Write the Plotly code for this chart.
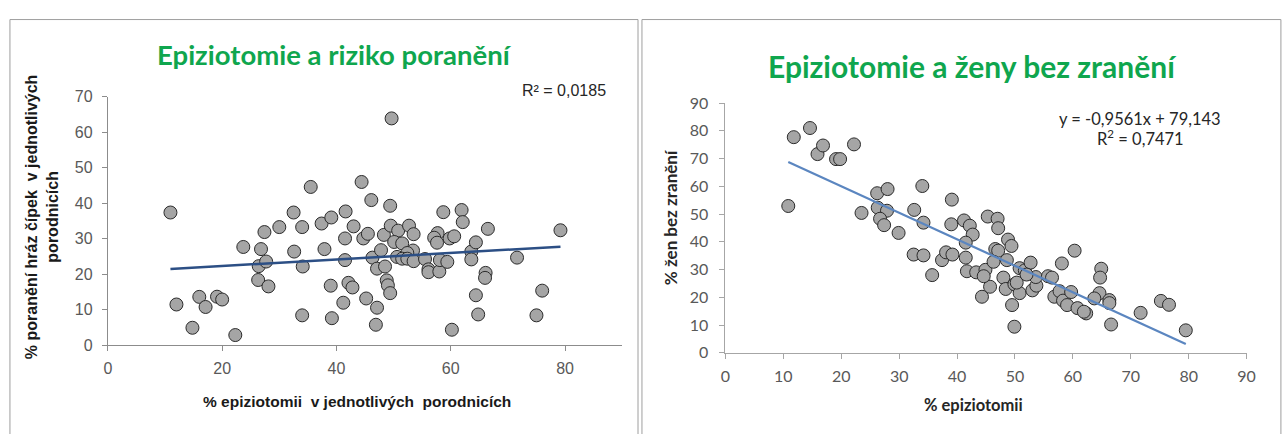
import plotly.graph_objects as go

W, H = 1282, 434

# ---------------- data ----------------
left_x = [10.95, 12.0, 14.8, 16.0, 17.1, 19.1, 20.0, 22.3, 23.7, 26.3,
          26.4, 26.8, 27.4, 27.7, 28.1, 30.0, 32.5, 32.6, 34.0, 34.1,
          34.0, 35.5, 37.4, 37.9, 39.0, 39.1, 39.2, 41.2, 41.5, 41.6,
          41.5, 42.1, 42.8, 43.0, 44.4, 44.7, 45.2, 45.5, 46.1, 46.3,
          46.9, 49.65, 49.4, 47.8, 48.3, 47.1, 48.5, 47.1, 48.8, 49.0,
          49.4, 49.5, 50.8, 50.1, 51.5, 52.7, 53.5, 53.4, 52.4, 50.6,
          51.5, 52.4, 53.5, 55.5, 56.1, 56.1, 58.0, 58.1, 59.4, 58.7,
          57.7, 57.1, 57.6, 59.8, 60.6, 61.9, 62.1, 60.2, 63.6, 63.6,
          64.4, 66.1, 66.0, 66.5, 64.4, 64.8, 71.6, 76.0, 75.0, 79.2]
left_y = [37.4, 11.5, 4.95, 13.65, 10.8, 13.7, 12.9, 2.9, 27.7, 18.4,
          22.3, 27.1, 31.9, 23.6, 16.6, 33.3, 37.4, 26.4, 33.3, 22.2,
          8.45, 44.6, 34.3, 27.1, 16.8, 36.0, 7.65, 12.0, 24.0, 37.7,
          30.1, 17.6, 16.3, 33.5, 46.0, 30.1, 13.2, 31.4, 40.9, 24.7,
          5.8, 63.9, 39.3, 26.8, 31.1, 21.6, 22.2, 10.6, 18.3, 16.9,
          14.7, 33.7, 32.3, 29.1, 28.7, 33.7, 31.3, 26.7, 26.0, 24.9,
          24.4, 24.4, 23.7, 24.3, 21.4, 20.6, 20.8, 24.0, 23.5, 37.5,
          31.6, 30.3, 28.9, 30.1, 30.7, 38.1, 34.7, 4.4, 26.4, 24.2,
          29.0, 20.4, 19.0, 32.8, 14.1, 8.7, 24.7, 15.4, 8.45, 32.4]
left_slope, left_intercept = 0.092, 20.5
left_r2_text = "R² = 0,0185"

right_x = [10.85, 11.8, 14.6, 15.9, 16.85, 19.1, 19.8, 22.2, 23.5, 26.2,
           28.0, 26.3, 27.9, 26.7, 27.4, 29.9, 32.6, 34.0, 34.2, 32.5,
           34.2, 35.7, 37.4, 38.1, 39.2, 39.1, 39.0, 41.2, 42.2, 42.7,
           41.5, 41.5, 41.7, 43.3, 44.3, 44.9, 45.3, 45.7, 47.0, 47.1,
           48.8, 49.4, 46.6, 47.1, 46.3, 48.6, 44.6, 48.0, 48.4, 49.9,
           49.5, 49.9, 50.8, 51.7, 52.7, 50.8, 50.3, 53.0, 53.7, 53.6,
           52.0, 55.7, 56.4, 58.1, 60.3, 56.8, 57.7, 58.3, 59.0, 59.7,
           60.8, 62.3, 61.9, 64.9, 64.7, 64.6, 63.7, 66.3, 66.3, 66.6,
           71.7, 75.2, 76.6, 79.5]
right_y = [52.9, 77.7, 81.0, 71.6, 74.7, 69.8, 69.8, 75.1, 50.4, 57.5,
           59.0, 52.3, 51.2, 48.3, 46.0, 43.2, 51.5, 60.1, 46.9, 35.4,
           35.1, 28.0, 33.4, 36.2, 35.4, 55.2, 46.3, 47.7, 45.8, 42.6,
           39.7, 34.3, 29.4, 29.0, 20.2, 29.9, 49.1, 23.8, 48.3, 44.9,
           40.8, 38.5, 37.4, 36.8, 32.8, 33.4, 27.6, 27.1, 23.0, 24.7,
           17.2, 9.4, 30.5, 29.7, 32.5, 21.5, 25.3, 22.5, 24.2, 27.3,
           28.2, 27.6, 27.1, 32.2, 36.8, 20.2, 22.2, 18.8, 17.2, 21.9,
           16.1, 14.2, 14.8, 30.3, 27.1, 21.5, 19.6, 19.0, 17.9, 10.2,
           14.4, 18.7, 17.3, 8.1]
right_slope, right_intercept = -0.9561, 79.143
right_eq_text = "y = -0,9561x + 79,143"
right_r2_text = "R<sup>2</sup> = 0,7471"

left_title = "Epiziotomie a riziko poranění"
right_title = "Epiziotomie a ženy bez zranění"
left_xtitle = "% epiziotomii  v jednotlivých  porodnicích"
left_ytitle = "% poranění hráz čípek  v jednotlivých<br>porodnicích"
right_xtitle = "% epiziotomii"
right_ytitle = "% žen bez zranění"

# ---------------- helpers ----------------
def px(x):
    return x / W

def py(y):
    return 1 - y / H

GREEN = "#0FA64E"
ARIAL = "Liberation Sans, Arial, sans-serif"
CAL = "Lato, Carlito, Calibri, sans-serif"
marker = dict(size=13, color="#A5A5A5", line=dict(color="#2B2B2B", width=1))

fig = go.Figure()

fig.add_trace(go.Scatter(x=left_x, y=left_y, mode="markers", marker=marker,
                         xaxis="x", yaxis="y", showlegend=False))
lx0, lx1 = min(left_x), max(left_x)
fig.add_trace(go.Scatter(x=[lx0, lx1],
                         y=[left_slope * lx0 + left_intercept, left_slope * lx1 + left_intercept],
                         mode="lines", line=dict(color="#2C4F85", width=2.5),
                         xaxis="x", yaxis="y", showlegend=False))

fig.add_trace(go.Scatter(x=right_x, y=right_y, mode="markers", marker=marker,
                         xaxis="x2", yaxis="y2", showlegend=False))
rx0, rx1 = min(right_x), max(right_x)
fig.add_trace(go.Scatter(x=[rx0, rx1],
                         y=[right_slope * rx0 + right_intercept, right_slope * rx1 + right_intercept],
                         mode="lines", line=dict(color="#5B86C0", width=2.2),
                         xaxis="x2", yaxis="y2", showlegend=False))

left_axis_common = dict(showgrid=False, zeroline=False, showline=True,
                        linecolor="#8C8C8C", linewidth=1, ticks="outside",
                        ticklen=5, tickcolor="#8C8C8C",
                        tickfont=dict(family=ARIAL, size=16, color="#595959"))
right_axis_common = dict(showgrid=False, zeroline=False, showline=True,
                         linecolor="#A6A6A6", linewidth=1, ticks="outside",
                         ticklen=5, tickcolor="#A6A6A6",
                         tickfont=dict(family=CAL, size=16, color="#595959"))

fig.update_layout(
    width=W, height=H, autosize=False,
    margin=dict(l=0, r=0, t=0, b=0),
    paper_bgcolor="white", plot_bgcolor="white",
    xaxis=dict(domain=[px(104), px(624)], range=[0, 90], tickvals=[0, 20, 40, 60, 80],
               anchor="y", ticklabelstandoff=3, **left_axis_common),
    yaxis=dict(domain=[py(350.7), py(90.7)], range=[0, 70], dtick=10,
               anchor="x", ticklabelstandoff=6, **left_axis_common),
    xaxis2=dict(domain=[px(728.4), px(1255.3)], range=[0, 90], dtick=10,
                anchor="y2", ticklabelstandoff=4, **right_axis_common),
    yaxis2=dict(domain=[py(358.5), py(97.3)], range=[0, 90], dtick=10,
                anchor="x2", ticklabelstandoff=8, **right_axis_common),
)

# panel borders
fig.add_shape(type="rect", xref="paper", yref="paper",
              x0=px(5), x1=px(640), y0=py(470), y1=py(10),
              line=dict(color="#9E9E9E", width=1))
fig.add_shape(type="rect", xref="paper", yref="paper",
              x0=px(644), x1=px(1290), y0=py(470), y1=py(10),
              line=dict(color="#9E9E9E", width=1))

ann = []
ann.append(dict(text=f"<b>{left_title}</b>", x=px(333), y=py(47), xref="paper", yref="paper",
                showarrow=False, font=dict(family=CAL, size=27.5, color=GREEN),
                xanchor="center", yanchor="middle"))
ann.append(dict(text=f"<b>{right_title}</b>", x=px(978), y=py(59), xref="paper", yref="paper",
                showarrow=False, font=dict(family=CAL, size=30, color=GREEN),
                xanchor="center", yanchor="middle"))
ann.append(dict(text=left_r2_text, x=px(565), y=py(84), xref="paper", yref="paper",
                showarrow=False, font=dict(family=ARIAL, size=16, color="#262626"),
                xanchor="center", yanchor="middle"))
ann.append(dict(text=right_eq_text, x=px(1148), y=py(114), xref="paper", yref="paper",
                showarrow=False, font=dict(family=CAL, size=16.5, color="#262626"),
                xanchor="center", yanchor="middle"))
ann.append(dict(text=right_r2_text, x=px(1148), y=py(134), xref="paper", yref="paper",
                showarrow=False, font=dict(family=CAL, size=16.5, color="#262626"),
                xanchor="center", yanchor="middle"))
ann.append(dict(text=f"<b>{left_xtitle}</b>", x=px(356), y=py(409), xref="paper", yref="paper",
                showarrow=False, font=dict(family=ARIAL, size=15.5, color="#1A1A1A"),
                xanchor="center", yanchor="middle"))
ann.append(dict(text=f"<b>{left_ytitle}</b>", x=px(37), y=py(216), xref="paper", yref="paper",
                showarrow=False, textangle=-90, font=dict(family=ARIAL, size=16, color="#1A1A1A"),
                xanchor="center", yanchor="middle"))
ann.append(dict(text=f"<b>{right_xtitle}</b>", x=px(979), y=py(413), xref="paper", yref="paper",
                showarrow=False, font=dict(family=CAL, size=16.5, color="#262626"),
                xanchor="center", yanchor="middle"))
ann.append(dict(text=f"<b>{right_ytitle}</b>", x=px(673), y=py(217), xref="paper", yref="paper",
                showarrow=False, textangle=-90, font=dict(family=CAL, size=17, color="#262626"),
                xanchor="center", yanchor="middle"))
fig.update_layout(annotations=ann)

fig.write_html("out.html")
